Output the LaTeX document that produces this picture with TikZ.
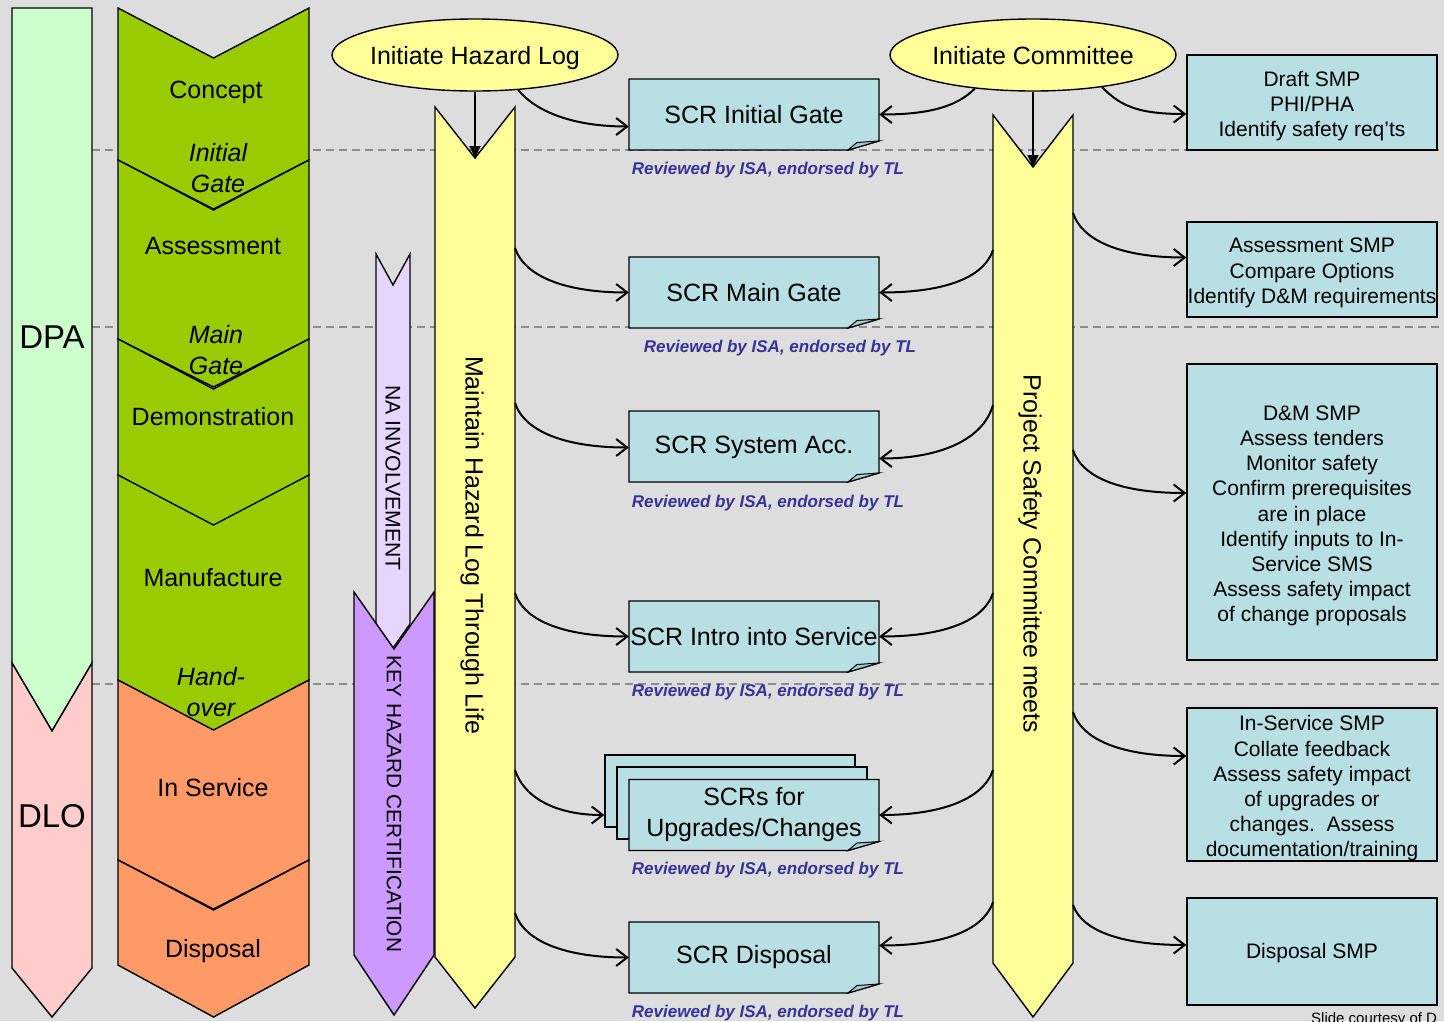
\documentclass[tikz,border=0pt]{standalone}
\usepackage{fontspec}
\setmainfont{Liberation Sans}
\usetikzlibrary{arrows.meta,shapes.geometric}
\definecolor{bgc}{HTML}{DDDDDD}
\definecolor{dpac}{HTML}{CCFFCC}
\definecolor{dloc}{HTML}{FFCCCC}
\definecolor{greenc}{HTML}{99CC00}
\definecolor{orangec}{HTML}{FF9966}
\definecolor{yellowc}{HTML}{FFFF99}
\definecolor{lavc}{HTML}{E6D5FF}
\definecolor{purc}{HTML}{CC99FF}
\definecolor{boxc}{HTML}{B8DFE3}
\definecolor{foldc}{HTML}{9FCACF}
\definecolor{capc}{HTML}{333399}
\definecolor{dashc}{HTML}{8C8C8C}
\newcommand\SCRshape[2]{%
  \path[shapeln,fill=boxc] (#1-125,#2-35.5) -- (#1+125,#2-35.5) -- (#1+125,#2+26.5) -- (#1+94,#2+35.5) -- (#1-125,#2+35.5) -- cycle;
  \path[shapeln,fill=foldc,line width=1pt] (#1+94,#2+35.5) -- (#1+103,#2+28) -- (#1+125,#2+26.5) -- cycle;
}
\newcommand\Phase[4]{%
  \path[shapeln,fill=#4] (118,#1) -- (213.5,#1+50) -- (309,#1) -- (309,#2) -- (213.5,#2+#3) -- (118,#2) -- cycle;
}
\begin{document}
\begin{tikzpicture}[x=1pt,y=-1pt,
  shapeln/.style={draw=black,line width=1.4pt,line join=miter},
  conn/.style={line width=2pt,-{Straight Barb[length=11pt,width=17pt,line width=2pt]}},
  downarr/.style={line width=2pt,-{Triangle[length=12pt,width=11pt]}},
  dashln/.style={draw=dashc,line width=1.5pt,dash pattern=on 8pt off 5pt},
  big/.style={font=\fontsize{25}{31}\selectfont,align=center,inner sep=0pt},
  phaseit/.style={align=center,inner sep=0pt,font=\fontsize{25}{31}\selectfont\itshape},
  scrnode/.style={big,minimum width=250pt,minimum height=71pt},
  smp/.style={draw=black,line width=1.4pt,fill=boxc,minimum width=250pt,inner sep=0pt},
  smptxt/.style={inner sep=0pt,align=center,font=\fontsize{21}{25.2}\selectfont},
  captxt/.style={font=\fontsize{17}{20}\selectfont\bfseries\itshape,text=capc,inner sep=0pt},
  ell/.style={ellipse,draw=black,line width=1.4pt,fill=yellowc,minimum width=286pt,minimum height=72pt,inner xsep=-6pt,inner ysep=0pt,text depth=0pt,font=\fontsize{25}{30}\selectfont},
  phasename/.style={big,font=\fontsize{33}{36}\selectfont}
]
\useasboundingbox (0,0) rectangle (1444,1021);
\clip (0,0) rectangle (1444,1021);
\fill[bgc] (0,0) rectangle (1444,1021);

% dashed phase separators
\draw[dashln] (92,150) -- (1444,150);
\draw[dashln] (92,327) -- (1444,327);
\draw[dashln] (92,684) -- (1444,684);

% DPA / DLO column
\path[shapeln,fill=dpac] (12,8) -- (92,8) -- (92,663) -- (52,731) -- (12,663) -- cycle;
\path[shapeln,fill=dloc] (12,663) -- (52,731) -- (92,663) -- (92,968) -- (52,1017) -- (12,968) -- cycle;
\node[phasename] (dpa) at (52,337) {DPA};
\node[phasename] (dlo) at (52,816) {DLO};

% life-cycle phases
\Phase{8}{160}{49}{greenc}
\Phase{160}{339}{48}{greenc}
\Phase{339}{475}{54}{greenc}
\Phase{475}{680}{51}{greenc}
\Phase{680}{860}{49}{orangec}
\Phase{860}{965}{52}{orangec}
\node[big] (concept) at (216,92) {Concept};
\node[phaseit] (initgate) at (218,168) {Initial\\Gate};
\node[big] (assess) at (213,246) {Assessment};
\node[phaseit] (maingate) at (216,350) {Main\\Gate};
\node[big] (demo) at (213,417) {Demonstration};
\node[big] (manuf) at (213,578) {Manufacture};
\node[phaseit] (handover) at (211,692) {Hand-\\over};
\node[big] (inserv) at (213,788) {In Service};
\node[big] (disp) at (213,951) {Disposal};

% NA involvement / key hazard certification
\path[shapeln,fill=lavc] (376,254) -- (393,285) -- (410,254) -- (410,624) -- (393,648) -- (376,624) -- cycle;
\path[shapeln,fill=purc] (354,592) -- (394,649) -- (434,592) -- (434,955) -- (394,1015) -- (354,955) -- cycle;
\node[inner sep=0pt,rotate=-90,font=\fontsize{21.2}{24}\selectfont] (natext) at (393,478) {NA\ INVOLVEMENT};
\node[inner sep=0pt,rotate=-90,font=\fontsize{20.8}{24}\selectfont] (keytext) at (394,804) {KEY HAZARD CERTIFICATION};

% hazard log bar and committee bar
\path[shapeln,fill=yellowc] (435,107) -- (475,158) -- (515,107) -- (515,957) -- (475,1008) -- (435,957) -- cycle;
\path[shapeln,fill=yellowc] (993,115) -- (1033,167) -- (1073,115) -- (1073,963) -- (1033,1017) -- (993,963) -- cycle;
\node[big,rotate=-90] (hltext) at (472,545) {Maintain Hazard Log Through Life};
\node[big,rotate=-90] (pctext) at (1030,554) {Project Safety Committee meets};
\coordinate (hlnotch) at (475,158);
\coordinate (pcnotch) at (1033,167);

% ellipses
\node[ell] (ihl) at (475,55) {Initiate Hazard Log};
\node[ell] (ic) at (1033,55) {Initiate Committee};
\draw[downarr] (ihl.south) -- (hlnotch);
\draw[downarr] (ic.south) -- (pcnotch);

% SCR boxes
\SCRshape{754}{114.5}
\node[scrnode] (scr1) at (754,114.5) {SCR Initial Gate};
\SCRshape{754}{292.5}
\node[scrnode] (scr2) at (754,292.5) {SCR Main Gate};
\SCRshape{754}{446.5}
\node[scrnode] (scr3) at (754,447.5) {SCR System Acc.};
\SCRshape{754}{636.5}
\node[scrnode] (scr4) at (754,636.5) {SCR Intro into Service};
\node[shapeln,fill=boxc,minimum width=250pt,minimum height=72pt,inner sep=0pt] (scr5b) at (730,791) {};
\node[shapeln,fill=boxc,minimum width=250pt,minimum height=72pt,inner sep=0pt] (scr5m) at (742,803) {};
\SCRshape{754}{815}
\node[scrnode] (scr5) at (754,815) {SCRs for\\Upgrades/Changes};
\SCRshape{754}{957.5}
\node[scrnode] (scr6) at (754,957.5) {SCR Disposal};

\node[captxt] (cap1) at (768,170) {Reviewed by ISA, endorsed by TL};
\node[captxt] (cap2) at (780,348) {Reviewed by ISA, endorsed by TL};
\node[captxt] (cap3) at (768,503) {Reviewed by ISA, endorsed by TL};
\node[captxt] (cap4) at (768,692) {Reviewed by ISA, endorsed by TL};
\node[captxt] (cap5) at (768,870) {Reviewed by ISA, endorsed by TL};
\node[captxt] (cap6) at (768,1013) {Reviewed by ISA, endorsed by TL};

% SMP boxes
\node[smp,minimum height=95pt] (smp1) at (1312,102.5) {};
\node[smptxt] (smp1t) at (1312,106) {Draft SMP\\PHI/PHA\\Identify safety req’ts};
\node[smp,minimum height=95pt] (smp2) at (1312,269.5) {};
\node[smptxt] (smp2t) at (1312,273) {Assessment SMP\\Compare Options\\Identify D\&M requirements};
\node[smp,minimum height=296pt] (smp3) at (1312,512) {};
\node[smptxt] (smp3t) at (1312,516) {D\&M SMP\\Assess tenders\\Monitor safety\\Confirm prerequisites\\are in place\\Identify inputs to In-\\Service SMS\\Assess safety impact\\of change proposals};
\node[smp,minimum height=153pt] (smp4) at (1312,784.5) {};
\node[smptxt] (smp4t) at (1312,788.5) {In-Service SMP\\Collate feedback\\Assess safety impact\\of upgrades or\\changes.\ \ Assess\\documentation/training};
\node[smp,minimum height=107pt] (smp5) at (1312,951.5) {};
\node[smptxt] (smp5t) at (1312,953.5) {Disposal SMP};

% connector start points on the bars
\coordinate (h2) at (515,248);
\coordinate (h3) at (515,403);
\coordinate (h4) at (515,593);
\coordinate (h5) at (515,770);
\coordinate (h6) at (515,913);
\coordinate (c2) at (993,250);
\coordinate (c3) at (993,405);
\coordinate (c4) at (993,593);
\coordinate (c5) at (993,770);
\coordinate (c6) at (993,902);
\coordinate (r2) at (1073,213);
\coordinate (r3) at (1073,450);
\coordinate (r4) at (1073,712);
\coordinate (r5) at (1073,905);

% connectors from the ellipses
\draw[conn] (ihl.-39) .. controls +(18,22) and +(-55,0) .. ([yshift=-12pt]scr1.west);
\draw[conn] (ic.-150) .. controls +(-18,18) and +(50,0) .. (scr1.east);
\draw[conn] (ic.-25) .. controls +(18,18) and +(-50,0) .. ([yshift=-11.5pt]smp1.west);

% hazard log to SCRs
\draw[conn] (h2) .. controls +(10,30) and +(-60,0) .. (scr2.west);
\draw[conn] (h3) .. controls +(10,30) and +(-60,0) .. (scr3.west);
\draw[conn] (h4) .. controls +(10,30) and +(-60,0) .. (scr4.west);
\draw[conn] (h5) .. controls +(10,30) and +(-45,0) .. (scr5b.west |- scr5.west);
\draw[conn] (h6) .. controls +(10,30) and +(-60,0) .. (scr6.west);

% committee to SCRs
\draw[conn] (c2) .. controls +(-10,30) and +(60,0) .. (scr2.east);
\draw[conn] (c3) .. controls +(-10,35) and +(60,0) .. ([yshift=-11pt]scr3.east);
\draw[conn] (c4) .. controls +(-10,30) and +(60,0) .. (scr4.east);
\draw[conn] (c5) .. controls +(-10,30) and +(60,0) .. (scr5.east);
\draw[conn] (c6) .. controls +(-10,30) and +(60,0) .. ([yshift=12pt]scr6.east);

% committee to SMPs
\draw[conn] (r2) .. controls +(10,30) and +(-60,0) .. ([yshift=12pt]smp2.west);
\draw[conn] (r3) .. controls +(10,30) and +(-60,0) .. ([yshift=19pt]smp3.west);
\draw[conn] (r4) .. controls +(10,30) and +(-60,0) .. ([yshift=28.5pt]smp4.west);
\draw[conn] (r5) .. controls +(10,28) and +(-60,0) .. ([yshift=6.5pt]smp5.west);

% credit line (cut by the page edge, as in the reference)
\node[anchor=north west,inner sep=0pt,font=\fontsize{15}{18}\selectfont] (credit) at (1311,1012) {Slide courtesy of D};
\end{tikzpicture}
\end{document}
